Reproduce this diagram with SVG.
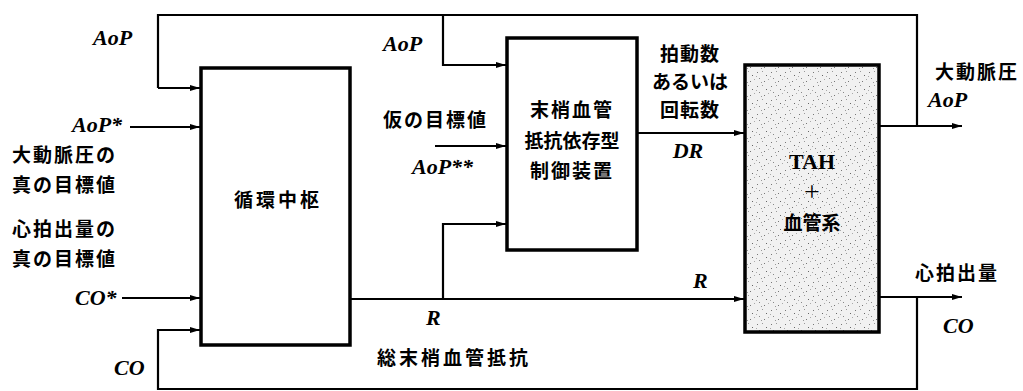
<svg xmlns="http://www.w3.org/2000/svg" width="1023" height="391" viewBox="0 0 1023 391">
<style>
.box{fill:#fff;stroke:#000;stroke-width:3.5;}
.con{fill:none;stroke:#000;stroke-width:2.2;}
.jp{font-family:'Noto Sans CJK JP','Noto Sans',sans-serif;font-weight:bold;font-size:19px;fill:#000;}
.m{font-style:italic;font-weight:bold;font-size:22px;fill:#000;}
.b{font-weight:bold;font-size:22px;fill:#000;}
.plus{font-weight:normal;font-size:28px;fill:#000;}
</style>
<defs>
<marker id="ah" viewBox="0 0 10 6" refX="10" refY="3" markerWidth="10" markerHeight="6" markerUnits="userSpaceOnUse" orient="auto">
<path d="M0,0 L10,3 L0,6 Z" fill="#000"/>
</marker>
<pattern id="stip" width="14" height="14" patternUnits="userSpaceOnUse">
<rect width="14" height="14" fill="#f1f1f1"/>
<rect x="1" y="2" width="1" height="1" fill="#777"/>
<rect x="6" y="1" width="1" height="1" fill="#999"/>
<rect x="10" y="5" width="1" height="1" fill="#666"/>
<rect x="3" y="8" width="1" height="1" fill="#888"/>
<rect x="8" y="11" width="1" height="1" fill="#777"/>
<rect x="12" y="9" width="1" height="1" fill="#aaa"/>
<rect x="5" y="12" width="1" height="1" fill="#999"/>
<rect x="0" y="6" width="1" height="1" fill="#aaa"/>
</pattern>
</defs>
<rect width="1023" height="391" fill="#fff"/>

<g id="connectors">
<path class="con" d="M158,88 V15 H917 V126"/>
<path class="con" d="M158,88 H200" marker-end="url(#ah)"/>
<path class="con" d="M130,127 H200" marker-end="url(#ah)"/>
<path class="con" d="M122,298 H200" marker-end="url(#ah)"/>
<path class="con" d="M917,297 V389 H158 V330 H200" marker-end="url(#ah)"/>
<path class="con" d="M350,299 H744" marker-end="url(#ah)"/>
<path class="con" d="M443,299 V224 H506" marker-end="url(#ah)"/>
<path class="con" d="M443,15 V65 H506" marker-end="url(#ah)"/>
<path class="con" d="M435,146 H506" marker-end="url(#ah)"/>
<path class="con" d="M637,133 H744" marker-end="url(#ah)"/>
<path class="con" d="M880,126 H962" marker-end="url(#ah)"/>
<path class="con" d="M880,297 H962" marker-end="url(#ah)"/>
</g>

<g id="node-center">
<rect class="box" x="201" y="68" width="149" height="277"/>
<text class="jp" x="278" y="207" text-anchor="middle" letter-spacing="3">循環中枢</text>
</g>

<g id="node-controller">
<rect class="box" x="507" y="38" width="130" height="212"/>
<text class="jp" x="572" y="117" text-anchor="middle" letter-spacing="2">末梢血管</text>
<text class="jp" x="572" y="148" text-anchor="middle">抵抗依存型</text>
<text class="jp" x="572" y="178" text-anchor="middle" letter-spacing="2">制御装置</text>
</g>

<g id="node-tah">
<rect class="box" x="745" y="65" width="134" height="267" style="fill:url(#stip)"/>
<text class="b" font-family="Liberation Serif, DejaVu Serif, serif" x="812" y="169" text-anchor="middle">TAH</text>
<text class="plus" font-family="Liberation Serif, DejaVu Serif, serif" x="812" y="201" text-anchor="middle">+</text>
<text class="jp" x="812" y="230" text-anchor="middle">血管系</text>
</g>

<g id="labels" font-family="Liberation Serif, DejaVu Serif, serif">
<text class="m" x="93" y="45">AoP</text>
<text class="m" x="72" y="132">AoP*</text>
<text class="jp" x="12" y="162" letter-spacing="2">大動脈圧の</text>
<text class="jp" x="12" y="192" letter-spacing="2">真の目標値</text>
<text class="jp" x="12" y="236" letter-spacing="2">心拍出量の</text>
<text class="jp" x="12" y="266" letter-spacing="2">真の目標値</text>
<text class="m" x="75" y="305">CO*</text>
<text class="m" x="114" y="375">CO</text>
<text class="m" x="383" y="51">AoP</text>
<text class="jp" x="383" y="127" letter-spacing="2">仮の目標値</text>
<text class="m" x="412" y="174">AoP**</text>
<text class="m" x="426" y="325">R</text>
<text class="jp" x="377" y="365" letter-spacing="3">総末梢血管抵抗</text>
<text class="m" x="693" y="288">R</text>
<text class="jp" x="690" y="61" text-anchor="middle" letter-spacing="1">拍動数</text>
<text class="jp" x="690" y="89" text-anchor="middle">あるいは</text>
<text class="jp" x="690" y="117" text-anchor="middle" letter-spacing="1">回転数</text>
<text class="m" x="688" y="158" text-anchor="middle">DR</text>
<text class="jp" x="935" y="79" letter-spacing="2">大動脈圧</text>
<text class="m" x="928" y="107">AoP</text>
<text class="jp" x="915" y="280" letter-spacing="2">心拍出量</text>
<text class="m" x="943" y="333">CO</text>
</g>
</svg>
